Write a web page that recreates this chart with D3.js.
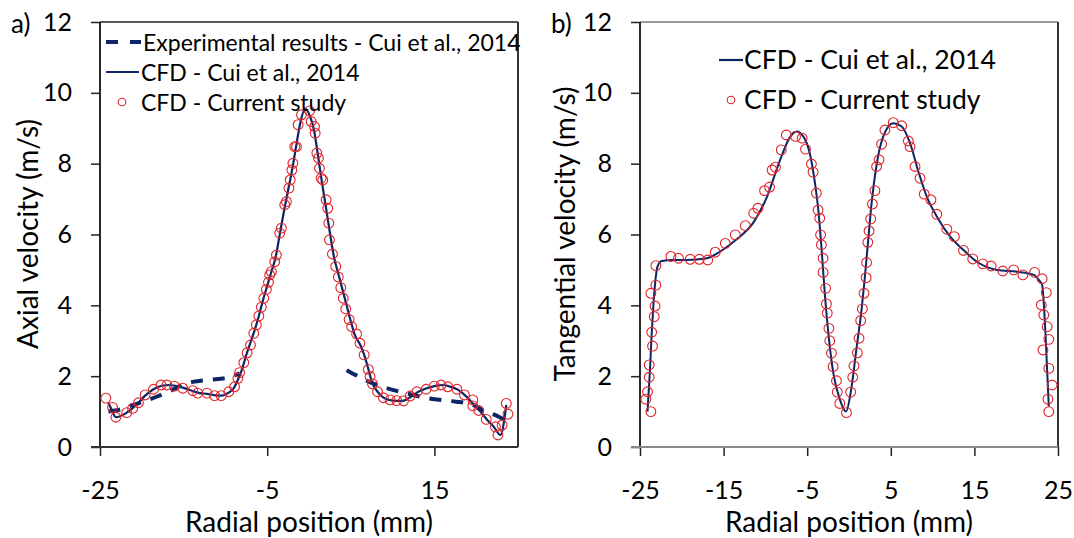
<!DOCTYPE html>
<html><head><meta charset="utf-8">
<script src="https://cdn.jsdelivr.net/npm/d3@7"></script>
<style>body{margin:0;background:#fff} svg{display:block} text{font-family:Lato,'Open Sans',sans-serif;fill:#000}</style>
</head><body><svg id="c" width="1074" height="538"></svg>
<script>
// ---------- data ----------
const yTicks = [0, 2, 4, 6, 8, 10, 12];
const xTicksA = [-25, -5, 15];
const xTicksB = [-25, -15, -5, 5, 15, 25];

// Panel a: experimental (dashed), two segments
const expLeftR = [-24, -22.6, -21, -19.6, -18, -16.6, -15.3, -13.9, -12.3, -10.9, -9.5, -8.3];
const expLeftV = [1.0, 1.06, 1.19, 1.30, 1.44, 1.58, 1.74, 1.84, 1.89, 1.92, 1.97, 2.08];
const expRightR = [4.5, 5.6, 7.2, 8.8, 10.4, 12.4, 14.4, 16.4, 17.6, 19.6, 21.1, 22.3, 23.3];
const expRightV = [2.17, 2.03, 1.84, 1.70, 1.59, 1.47, 1.37, 1.31, 1.28, 1.19, 1.0, 0.9, 0.78];

// Panel a: CFD Cui et al. (solid line)
const cfdAR = [-24.0, -23.6, -23.1, -22.3, -21.5, -20.6, -19.6, -18.6, -17.6, -16.8, -16.0, -15.0, -14.0, -13.2, -12.2, -11.2, -10.4, -9.7, -9.0, -8.5, -8.0, -7.5, -7.0, -6.5, -6.0, -5.5, -5.0, -4.5, -4.0, -3.5, -3.0, -2.5, -2.0, -1.5, -1.0, -0.45, 0.1, 0.6, 1.0, 1.5, 2.0, 2.5, 3.0, 3.5, 4.0, 4.5, 5.0, 5.5, 6.1, 6.6, 7.1, 7.5, 8.2, 9.0, 10.0, 11.2, 12.2, 13.0, 14.0, 15.0, 16.0, 16.8, 17.8, 18.8, 19.7, 20.5, 21.3, 22.1, 22.9, 23.6];
const cfdAV = [1.25, 1.05, 0.84, 0.90, 1.02, 1.20, 1.45, 1.63, 1.73, 1.75, 1.73, 1.67, 1.59, 1.53, 1.50, 1.46, 1.45, 1.52, 1.66, 1.90, 2.20, 2.60, 2.95, 3.30, 3.70, 4.15, 4.55, 4.95, 5.35, 6.00, 6.65, 7.25, 7.85, 8.55, 9.20, 9.55, 9.35, 8.95, 8.35, 7.55, 6.80, 6.05, 5.35, 4.90, 4.45, 4.00, 3.55, 3.15, 2.90, 2.60, 2.20, 1.85, 1.56, 1.38, 1.31, 1.30, 1.42, 1.55, 1.65, 1.72, 1.75, 1.71, 1.62, 1.43, 1.20, 1.00, 0.77, 0.57, 0.34, 1.19];

// Panel a: CFD current study (circles)
const curAR = [-24.3, -23.5, -23.1, -21.8, -21.1, -20.4, -19.6, -18.6, -17.7, -17.0, -16.1, -15.1, -13.9, -13.3, -12.2, -11.3, -10.5, -9.6, -8.9, -8.5, -8.3, -7.8, -7.4, -7.0, -6.6, -6.3, -6.0, -5.7, -5.4, -5.1, -4.85, -4.7, -4.5, -4.1, -3.9, -3.5, -3.3, -2.9, -2.7, -2.4, -2.25, -2.05, -1.93, -1.7, -1.5, -1.3, -0.9, 0.06, 0.26, 0.66, 0.74, 0.94, 1.13, 1.25, 1.45, 1.65, 2.05, 2.24, 2.37, 2.45, 2.8, 3.2, 3.5, 3.8, 4.1, 4.4, 4.8, 5.1, 5.7, 6.1, 6.6, 7.1, 7.3, 7.6, 8.2, 8.9, 9.7, 10.5, 11.3, 12.1, 12.9, 14.0, 15.0, 15.8, 16.6, 17.7, 18.6, 19.6, 19.6, 20.3, 21.2, 22.3, 22.6, 23.1, 23.8, 23.6];
const curAV = [1.38, 1.12, 0.84, 0.97, 1.09, 1.25, 1.47, 1.63, 1.75, 1.75, 1.72, 1.66, 1.59, 1.52, 1.52, 1.45, 1.45, 1.56, 1.70, 1.94, 2.10, 2.38, 2.66, 2.88, 3.21, 3.45, 3.70, 3.95, 4.20, 4.45, 4.65, 4.86, 4.95, 5.23, 5.42, 6.04, 6.18, 6.84, 6.93, 7.31, 7.54, 7.82, 8.01, 8.48, 8.48, 9.10, 9.38, 9.49, 9.19, 9.05, 8.86, 8.30, 8.16, 7.87, 7.59, 7.54, 6.98, 6.74, 6.32, 5.85, 5.45, 5.10, 4.80, 4.50, 4.20, 3.90, 3.60, 3.40, 3.19, 2.93, 2.60, 2.19, 1.99, 1.78, 1.56, 1.39, 1.33, 1.31, 1.30, 1.44, 1.56, 1.63, 1.72, 1.75, 1.70, 1.63, 1.47, 1.33, 1.16, 1.03, 0.78, 0.57, 0.34, 0.62, 0.93, 1.23];

// Panel b: CFD Cui et al. (solid line)
const cfdBR = [-24.1, -23.8, -23.6, -23.4, -23.2, -22.9, -22.4, -21.0, -19.4, -17.0, -15.4, -13.4, -11.4, -9.8, -8.25, -7.06, -6.26, -5.47, -4.7, -4.07, -3.67, -3.27, -2.87, -2.47, -1.87, -1.08, -0.36, 0.2, 0.92, 1.5, 1.9, 2.3, 2.7, 3.3, 4.1, 5.3, 6.3, 7.3, 8.3, 9.3, 10.5, 12.1, 13.7, 15.3, 17.7, 20.1, 22.1, 22.7, 23.1, 23.5, 23.9];
const cfdBV = [1.0, 2.2, 3.21, 4.0, 4.6, 5.1, 5.25, 5.28, 5.28, 5.33, 5.52, 5.87, 6.35, 7.07, 8.10, 8.75, 8.91, 8.77, 8.30, 7.45, 6.69, 5.56, 4.25, 3.21, 2.08, 1.33, 1.0, 1.53, 2.83, 3.87, 4.81, 5.85, 6.88, 7.97, 8.77, 9.14, 9.05, 8.58, 7.78, 7.07, 6.51, 5.94, 5.56, 5.23, 5.0, 4.95, 4.86, 4.72, 4.58, 3.21, 1.14];

// Panel b: CFD current study (circles)
const curBR = [-24.3, -23.7, -24.1, -23.9, -23.9, -23.5, -23.6, -23.3, -23.2, -23.7, -23.1, -23.1, -21.3, -20.4, -19.0, -17.9, -16.9, -16.0, -14.8, -13.6, -12.4, -11.4, -10.9, -10.1, -9.5, -9.2, -8.8, -8.1, -7.5, -6.4, -5.6, -5.2, -4.5, -4.3, -3.9, -3.7, -3.5, -3.4, -3.3, -3.1, -3.1, -2.8, -2.7, -2.6, -2.4, -2.3, -2.1, -1.9, -1.5, -1.4, -1.1, -0.3, 0.2, 0.45, 0.6, 1.0, 1.2, 1.4, 1.6, 1.8, 2.05, 2.1, 2.25, 2.4, 2.6, 2.8, 3.1, 3.3, 3.6, 3.9, 4.3, 5.3, 6.3, 7.1, 7.3, 7.9, 8.5, 9.0, 9.8, 10.5, 11.7, 12.6, 13.7, 14.8, 16.0, 17.0, 18.4, 19.7, 20.8, 22.2, 23.1, 23.6, 23.0, 23.3, 23.7, 23.9, 23.2, 23.9, 24.3, 23.8, 23.9];
const curBV = [1.35, 1.0, 1.56, 1.97, 2.32, 2.85, 3.24, 3.68, 3.98, 4.34, 4.57, 5.12, 5.38, 5.33, 5.30, 5.30, 5.28, 5.50, 5.75, 5.99, 6.25, 6.60, 6.74, 7.24, 7.34, 7.82, 7.90, 8.39, 8.81, 8.77, 8.72, 8.41, 7.99, 7.76, 7.17, 6.69, 6.46, 5.99, 5.71, 5.33, 4.93, 4.48, 4.04, 3.78, 3.35, 3.0, 2.65, 2.27, 1.87, 1.55, 1.23, 0.97, 1.55, 1.97, 2.29, 2.66, 3.07, 3.57, 3.90, 4.34, 4.78, 5.21, 5.78, 6.10, 6.44, 6.86, 7.24, 7.92, 8.11, 8.55, 8.95, 9.16, 9.07, 8.64, 8.48, 7.92, 7.59, 7.14, 6.98, 6.57, 6.15, 5.94, 5.55, 5.31, 5.17, 5.11, 4.97, 5.0, 4.86, 4.93, 4.75, 4.36, 4.01, 3.73, 3.40, 3.04, 2.74, 2.22, 1.75, 1.35, 1.0];

const legendA = ["Experimental results - Cui et al., 2014", "CFD - Cui et al., 2014", "CFD - Current study"];
const legendB = ["CFD - Cui et al., 2014", "CFD - Current study"];

// ---------- drawing ----------
const NAVY = "#0b2566", RED = "#e0242a";
const svg = d3.select("#c");
const zip = (r, v) => r.map((d, i) => [d, v[i]]);
const plain = d => String(d);

function panel(opt) {
  const x = d3.scaleLinear([-25, 25], [opt.left, opt.right]);
  const y = d3.scaleLinear([0, 12], [447, 22]);
  const g = svg.append("g");

  g.append("line").attr("x1", opt.left).attr("x2", opt.right).attr("y1", y(12)).attr("y2", y(12))
    .attr("stroke", opt.topCol).attr("stroke-width", 1.5);
  g.append("line").attr("x1", opt.right).attr("x2", opt.right).attr("y1", y(12)).attr("y2", y(0))
    .attr("stroke", opt.rightCol).attr("stroke-width", 2);

  const ya = g.append("g").attr("transform", `translate(${opt.left},0)`)
    .call(d3.axisLeft(y).tickValues(yTicks).tickSize(9).tickPadding(19).tickFormat(plain));
  ya.select(".domain").remove();
  ya.selectAll(".tick line").attr("stroke", "#222").attr("stroke-width", 1.5);
  ya.selectAll(".tick text").style("font-size", "25px").attr("fill", "#000");
  g.append("line").attr("x1", opt.left).attr("x2", opt.left).attr("y1", y(12)).attr("y2", y(0))
    .attr("stroke", "#111").attr("stroke-width", 1.8);

  const xa = g.append("g").attr("transform", `translate(0,${y(0)})`)
    .call(d3.axisBottom(x).tickValues(opt.xTicks).tickSize(9).tickFormat(plain));
  xa.select(".domain").remove();
  xa.selectAll(".tick line").attr("stroke", "#222").attr("stroke-width", 1.5);
  xa.selectAll(".tick text").style("font-size", "25px").attr("fill", "#000")
    .attr("y", 43).attr("dy", "0.35em");
  g.append("line").attr("x1", opt.left - 9).attr("x2", opt.right).attr("y1", y(0)).attr("y2", y(0))
    .attr("stroke", opt.bottomCol).attr("stroke-width", 2);

  g.append("text").attr("x", (opt.left + opt.right) / 2).attr("y", 521).attr("text-anchor", "middle")
    .attr("dominant-baseline", "central").style("font-size", "28px").text("Radial position (mm)");
  g.append("text").attr("transform", `translate(${opt.ytX},234) rotate(-90)`).attr("text-anchor", "middle")
    .attr("dominant-baseline", "central").style("font-size", "28px").text(opt.yTitle);
  g.append("text").attr("x", opt.tagX).attr("y", 23).attr("dominant-baseline", "central")
    .style("font-size", "26px").text(opt.tag);

  return {g, x, y};
}

function drawLine(p, pts, w, dash) {
  p.g.append("path").datum(pts)
    .attr("d", d3.line().x(d => p.x(d[0])).y(d => p.y(d[1])).curve(d3.curveMonotoneX))
    .attr("fill", "none").attr("stroke", NAVY).attr("stroke-width", w)
    .attr("stroke-dasharray", dash || null);
}
function drawCircles(p, pts) {
  p.g.append("g").selectAll("circle").data(pts).join("circle")
    .attr("cx", d => p.x(d[0])).attr("cy", d => p.y(d[1])).attr("r", 4.9)
    .attr("fill", "none").attr("stroke", RED).attr("stroke-width", 1.1);
}

// Panel a
const A = panel({left: 100, right: 518, xTicks: xTicksA, topCol: "#222", rightCol: "#333", bottomCol: "#333",
  ytX: 27, yTitle: "Axial velocity (m/s)", tag: "a)", tagX: 11});
drawLine(A, zip(expLeftR, expLeftV), 4, "12,10");
drawLine(A, zip(expRightR, expRightV), 4, "12,10");
drawLine(A, zip(cfdAR, cfdAV), 2.2);
drawCircles(A, zip(curAR, curAV));

const la = A.g.append("g");
la.append("line").attr("x1", 106).attr("x2", 141).attr("y1", 42).attr("y2", 42)
  .attr("stroke", NAVY).attr("stroke-width", 4).attr("stroke-dasharray", "12,12");
la.append("line").attr("x1", 106).attr("x2", 139).attr("y1", 72).attr("y2", 72)
  .attr("stroke", NAVY).attr("stroke-width", 2.2);
la.append("circle").attr("cx", 122).attr("cy", 102).attr("r", 3.8).attr("fill", "none").attr("stroke", RED).attr("stroke-width", 1.1);
[[143, 42], [141, 72], [141, 102]].forEach((p, i) => {
  la.append("text").attr("x", p[0]).attr("y", p[1]).attr("dominant-baseline", "central")
    .style("font-size", "23px").text(legendA[i]);
});

// Panel b
const B = panel({left: 640, right: 1058, xTicks: xTicksB, topCol: "#7a7a7a", rightCol: "#333", bottomCol: "#8a8a8a",
  ytX: 564, yTitle: "Tangential velocity (m/s)", tag: "b)", tagX: 551});
drawLine(B, zip(cfdBR, cfdBV), 2);
drawCircles(B, zip(curBR, curBV));

const lb = B.g.append("g");
lb.append("line").attr("x1", 719).attr("x2", 743).attr("y1", 60).attr("y2", 60)
  .attr("stroke", NAVY).attr("stroke-width", 2.2);
lb.append("circle").attr("cx", 731).attr("cy", 100).attr("r", 3.8).attr("fill", "none").attr("stroke", RED).attr("stroke-width", 1.1);
[[744, 59], [744, 99]].forEach((p, i) => {
  lb.append("text").attr("x", p[0]).attr("y", p[1]).attr("dominant-baseline", "central")
    .style("font-size", "26.5px").text(legendB[i]);
});
</script></body></html>
